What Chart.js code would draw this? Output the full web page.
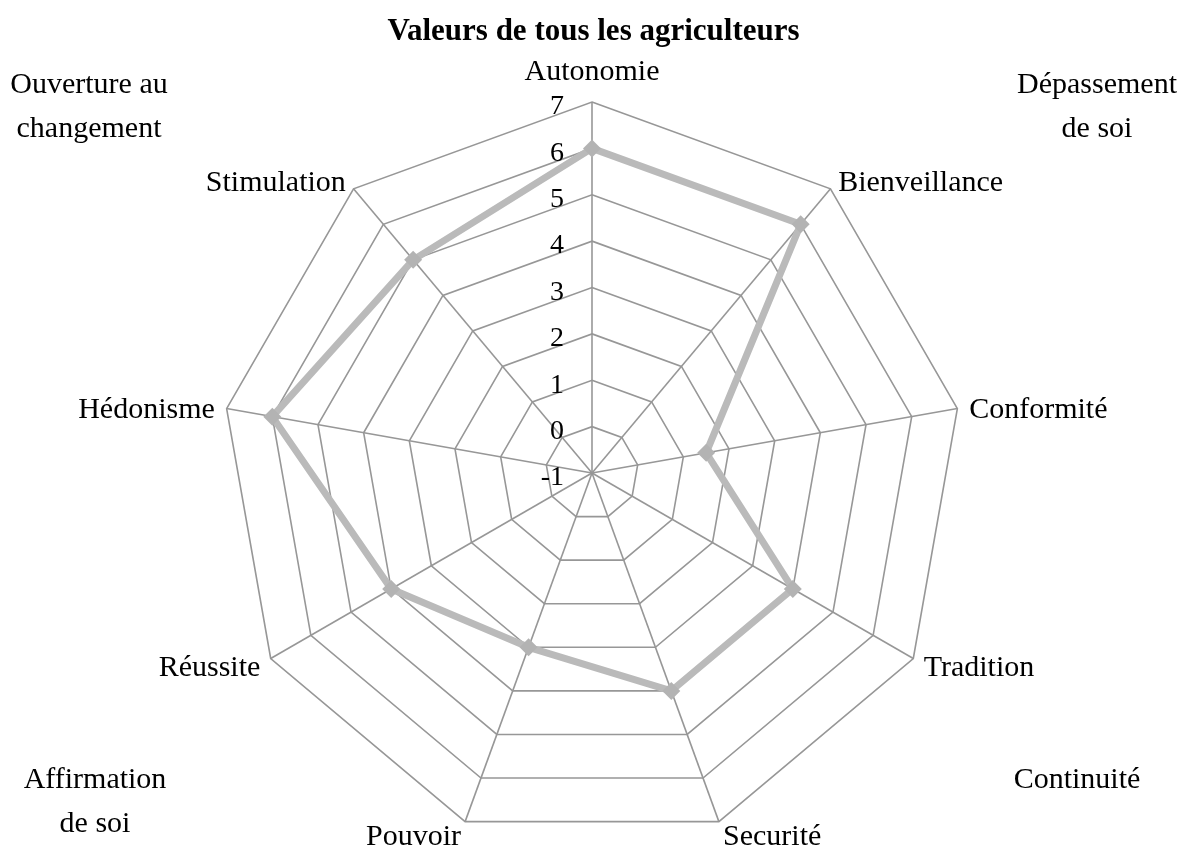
<!DOCTYPE html>
<html lang="fr">
<head>
<meta charset="utf-8">
<title>Valeurs de tous les agriculteurs</title>
<script src="https://cdn.jsdelivr.net/npm/chart.js@4/dist/chart.umd.min.js"></script>
<style>
  body { margin: 0; background: #fff; }
  #wrap { position: relative; width: 1187px; height: 854px; font-family: "Liberation Serif", "Times New Roman", serif; color: #000; }
  #chart { position: absolute; left: 0; top: 0; }
  .note { position: absolute; font-size: 30px; line-height: 44px; text-align: center; }
  #title { position: absolute; left: 0; top: 12px; width: 1187px; text-align: center; font-size: 31px; font-weight: bold; line-height: 36px; }
</style>
</head>
<body>
<div id="wrap">
  <canvas id="chart" width="1187" height="854"></canvas>
  <div id="title">Valeurs de tous les agriculteurs</div>
  <div class="note" style="left:0; top:61px; width:178px;">Ouverture au<br>changement</div>
  <div class="note" style="left:1007px; top:61px; width:180px;">Dépassement<br>de soi</div>
  <div class="note" style="left:0; top:756px; width:190px;">Affirmation<br>de soi</div>
  <div class="note" style="left:987px; top:756px; width:180px;">Continuité</div>
</div>
<script>
const categories = ["Autonomie", "Bienveillance", "Conformité", "Tradition", "Securité", "Pouvoir", "Réussite", "Hédonisme", "Stimulation"];
const scores = [6, 6, 1.5, 4, 4, 3, 4, 6, 5];
const scaleMin = -1;
const scaleMax = 7;
const scaleStep = 1;

// Excel-like labels: tick numbers left of the vertical axis, category names outside the vertices
const excelLabels = {
  id: "excelLabels",
  afterDraw(chart) {
    const scale = chart.scales.r;
    const ctx = chart.ctx;
    ctx.save();
    ctx.fillStyle = "#000";
    ctx.textBaseline = "middle";

    ctx.font = '28px "Liberation Serif"';
    ctx.textAlign = "right";
    scale.ticks.forEach((t) => {
      const y = scale.yCenter - scale.getDistanceFromCenterForValue(t.value) + 5;
      ctx.fillText(t.label, scale.xCenter - 28, y);
    });

    ctx.font = '30px "Liberation Serif"';
    const n = categories.length;
    categories.forEach((name, i) => {
      const deg = (360 * i) / n;
      const p = scale.getPointPosition(i, scale.drawingArea + 12);
      let align = "center";
      if (deg > 0 && deg < 180) align = "left";
      else if (deg > 180) align = "right";
      const y = deg === 0 ? p.y - 18 : p.y + 4;
      ctx.textAlign = align;
      ctx.fillText(name, p.x, y);
    });
    ctx.restore();
  },
};

const ctx = document.getElementById("chart").getContext("2d");
new Chart(ctx, {
  type: "radar",
  data: {
    labels: categories,
    datasets: [
      {
        label: "Valeurs",
        data: scores,
        fill: false,
        borderColor: "#bababa",
        borderWidth: 7,
        borderJoinStyle: "round",
        tension: 0,
        pointStyle: "rectRot",
        pointRadius: 9,
        pointBackgroundColor: "#b3b3b3",
        pointBorderWidth: 0,
      },
    ],
  },
  options: {
    responsive: false,
    animation: false,
    layout: { padding: { left: 221, top: 102, right: 224, bottom: 10 } },
    plugins: {
      legend: { display: false },
      tooltip: { enabled: false },
    },
    scales: {
      r: {
        min: scaleMin,
        max: scaleMax,
        ticks: { stepSize: scaleStep, display: false },
        grid: { color: "#979797", lineWidth: 1.6 },
        angleLines: { color: "#979797", lineWidth: 1.6 },
        pointLabels: { display: false },
      },
    },
  },
  plugins: [excelLabels],
});
</script>
</body>
</html>
